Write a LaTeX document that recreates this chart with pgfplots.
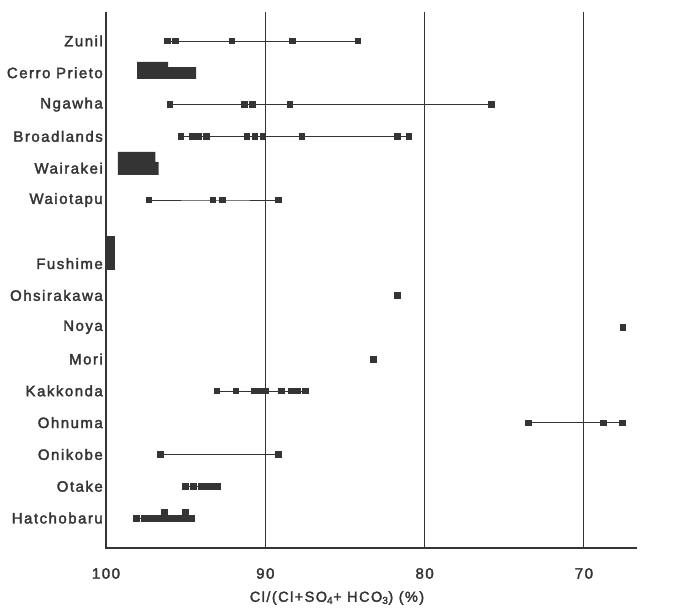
\documentclass[border=0pt]{standalone}
\usepackage{pgfplots}
\pgfplotsset{compat=1.18}
\usepackage{fontspec}
\setmainfont{Liberation Sans}[LetterSpace=10, FakeBold=2.2]
\definecolor{ink}{RGB}{52,52,52}
\begin{document}
\begin{tikzpicture}
\path[use as bounding box] (-106pt,-60pt) rectangle (583pt,548pt);
\begin{axis}[
  at={(0pt,0pt)}, anchor=south west,
  scale only axis, width=531pt, height=536pt,
  x dir=reverse, xmin=66.67, xmax=100,
  y dir=reverse, ymin=-0.91, ymax=15.94,
  axis line style={draw=none},
  xtick={70,80,90,100},
  xmajorgrids, grid style={ink, line width=0.9pt},
  major tick length=0pt,
  ytick={0,1,2,3,4,5,7,8,9,10,11,12,13,14,15},
  yticklabels={Zunil,Cerro Prieto,Ngawha,Broadlands,Wairakei,Waiotapu,Fushime,Ohsirakawa,Noya,Mori,Kakkonda,Ohnuma,Onikobe,Otake,Hatchobaru},
  ticklabel style={font=\fontsize{15}{18}\selectfont, text=ink},
  yticklabel style={inner sep=0pt, xshift=-3pt},
  xticklabel style={inner sep=0pt, yshift=-20pt},
  /pgf/number format/assume math mode=true,
  clip=false,
  pt/.style={ink, solid, line width=0.7pt, mark=square*, mark size=2.8pt, mark options={solid, fill=ink, draw=ink}},
  blk/.style={fill=ink, draw=none, mark=none},
]
% blocks
\addplot[blk] coordinates {(98.05,0.66) (96.1,0.66) (96.1,0.82) (94.35,0.82) (94.35,1.19) (98.05,1.19)} --cycle;
\addplot[blk] coordinates {(99.25,3.49) (96.9,3.49) (96.9,3.8) (96.7,3.8) (96.7,4.21) (99.25,4.21)} --cycle;
\addplot[blk] coordinates {(99.95,6.13) (99.43,6.13) (99.43,7.2) (99.95,7.2)} --cycle;
% Zunil
\addplot[pt] coordinates {(96.15,0) (95.65,0) (92.1,0) (88.3,0) (84.2,0)};
% Ngawha
\addplot[pt] coordinates {(96.0,2) (91.3,2) (90.8,2) (88.45,2) (75.8,2)};
% Broadlands
\addplot[pt] coordinates {(95.3,3) (94.6,3) (94.2,3) (93.7,3) (91.15,3) (90.65,3) (90.15,3) (87.7,3) (81.7,3) (81.0,3)};
% Waiotapu
\addplot[pt] coordinates {(97.3,5) (93.3,5) (92.7,5) (89.2,5)};
% Ohsirakawa, Noya, Mori
\addplot[pt, only marks] coordinates {(81.7,8)};
\addplot[pt, only marks] coordinates {(67.55,9)};
\addplot[pt, only marks] coordinates {(83.2,10)};
% Kakkonda
\addplot[pt] coordinates {(93.05,11) (91.85,11) (90.7,11) (90.35,11) (90.0,11) (89.0,11) (88.35,11) (87.95,11) (87.5,11)};
% Ohnuma
\addplot[pt] coordinates {(73.5,12) (68.8,12) (67.6,12)};
% Onikobe
\addplot[pt] coordinates {(96.6,13) (89.2,13)};
% Otake
\addplot[pt] coordinates {(95.0,14) (94.5,14) (94.0,14) (93.65,14) (93.3,14) (93.0,14)};
% Hatchobaru
\addplot[pt] coordinates {(98.1,15) (97.6,15) (97.3,15) (97.0,15) (96.7,15) (96.4,15) (96.1,15) (95.8,15) (95.5,15) (95.2,15) (94.9,15) (94.6,15)};
\addplot[pt, only marks] coordinates {(96.35,14.8) (95.0,14.8)};
% axis lines
\draw[ink, line width=1.6pt] (axis cs:100,-0.91) -- (axis cs:100,15.94) -- (axis cs:66.67,15.94);
\node[text=ink, font=\fontsize{14.5}{17}\selectfont] at (axis cs:85.5,15.94) [yshift=-50pt] {Cl/(Cl+SO\textsubscript{4}+ HCO\textsubscript{3}) (\%)};
\end{axis}
\end{tikzpicture}
\end{document}
